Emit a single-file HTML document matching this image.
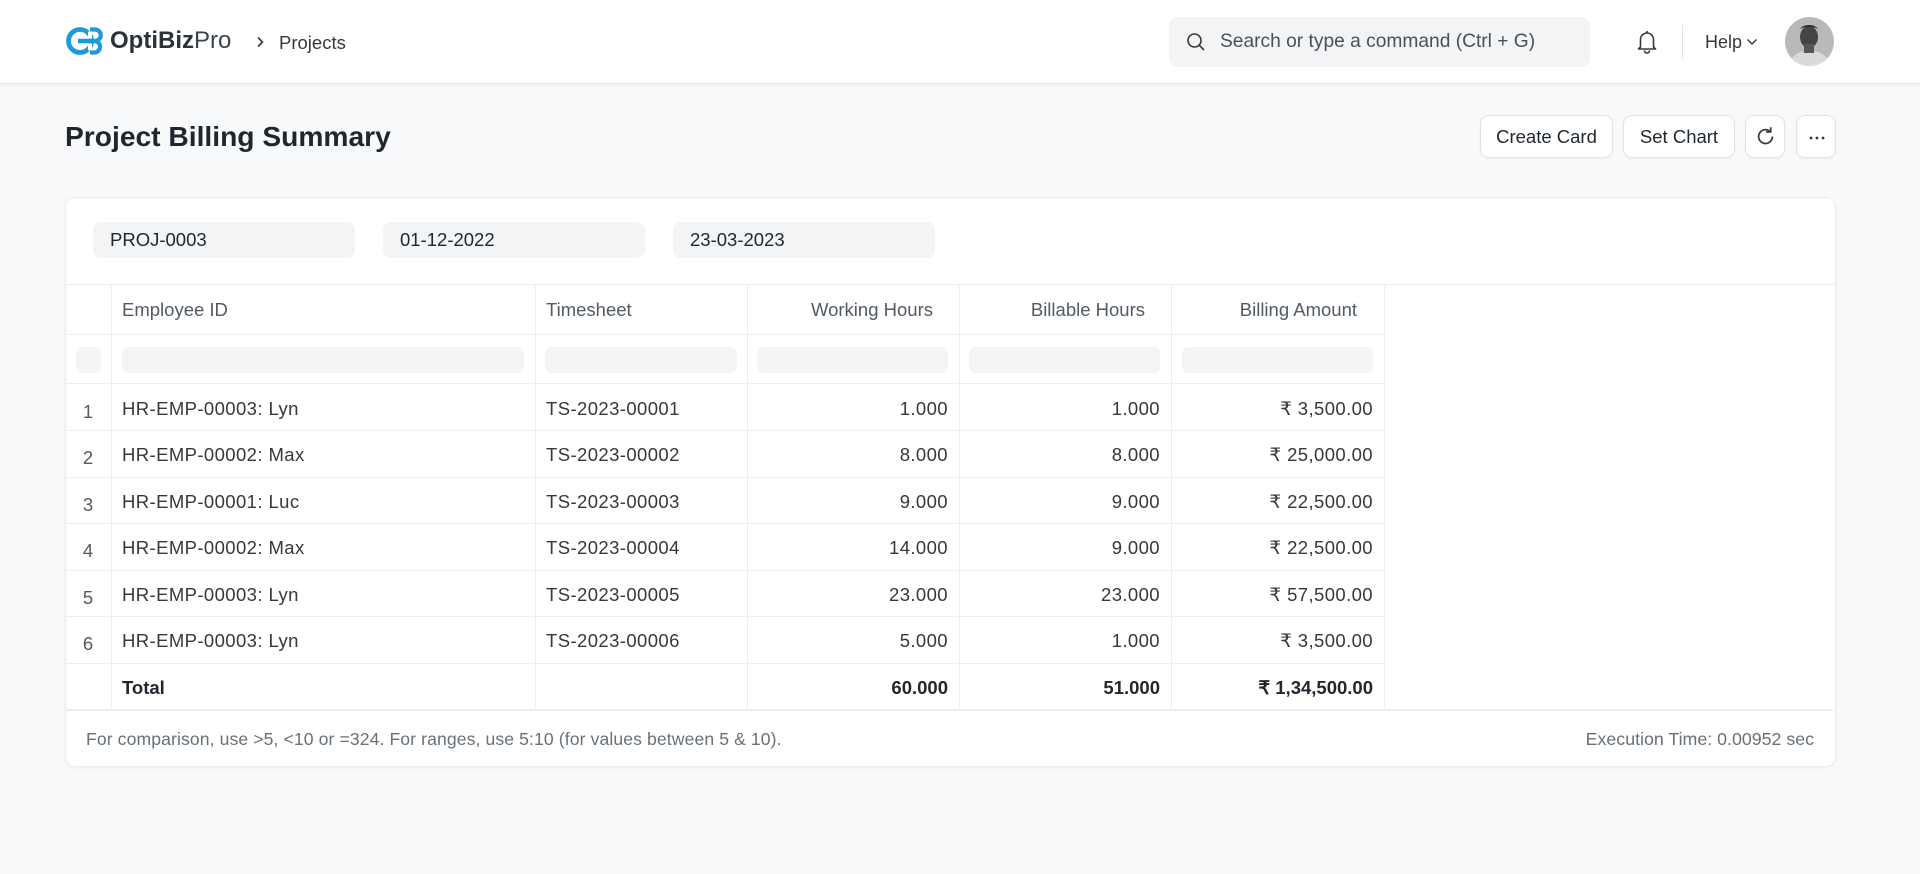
<!DOCTYPE html>
<html><head><meta charset="utf-8">
<style>
*{box-sizing:border-box;margin:0;padding:0}
html,body{width:1920px;height:874px;overflow:hidden}
body{background:#f8f9fa;font-family:"Liberation Sans",Arial,sans-serif;color:#1f272e;position:relative}
.a{position:absolute;white-space:nowrap}
.nav{position:absolute;left:0;top:0;width:1920px;height:84px;background:#fff;border-bottom:1px solid #e6e6e6;box-shadow:0 1px 2px rgba(0,0,0,0.04)}
.btn{position:absolute;top:115px;height:43px;background:#fff;border:1px solid #e2e3e5;border-radius:9px;box-shadow:0 1px 2px rgba(0,0,0,0.05);font-size:18.5px;color:#1f272e;line-height:41px;text-align:center}
.card{position:absolute;left:65px;top:197px;width:1771px;height:570px;background:#fff;border:1px solid #ececec;border-radius:10px;box-shadow:0 1px 3px rgba(0,0,0,0.04)}
.inp{position:absolute;top:222px;height:36px;width:262px;background:#f3f4f5;border-radius:8px;font-size:18.5px;line-height:36px;padding-left:17px;color:#1f272e}
.hl{position:absolute;height:1px;background:#ebeef0}
.vl{position:absolute;width:1px;top:285px;height:425px;background:#ebeef0}
.fb{position:absolute;top:347px;height:26px;background:#f3f4f5;border-radius:7px}
.t{position:absolute;font-size:18.5px;white-space:nowrap;color:#383838;letter-spacing:0.4px}
.h{position:absolute;font-size:18.5px;white-space:nowrap;color:#525a63}
.r{text-align:right}
.n{position:absolute;font-size:18.5px;color:#525a63;width:46px;text-align:center;left:65px}
.b{font-weight:bold;color:#1f272e}
</style></head><body>

<div class="nav"></div>
<!-- logo -->
<svg class="a" style="left:66px;top:26px" width="40" height="30" viewBox="0 0 40 30">
  <circle cx="14" cy="15" r="11.5" stroke="#1e9bd7" stroke-width="4.8" fill="none"/>
  <path d="M12 15 H29" stroke="#1e9bd7" stroke-width="4.4" fill="none"/>
  <path d="M24 3.5 H29 A5.6 5.6 0 0 1 29 15 A5.8 5.8 0 0 1 29 26.5 H24" stroke="#1e9bd7" stroke-width="4.2" fill="none"/>
  <rect x="22" y="5.5" width="4" height="7" fill="#fff"/>
  <rect x="22" y="17.5" width="4" height="7" fill="#fff"/>
</svg>
<div class="a" style="left:110px;top:27px;font-size:24px;line-height:28px;color:#2b3238"><b>OptiBiz</b><span style="font-weight:normal;color:#3b434a">Pro</span></div>
<svg class="a" style="left:255px;top:35px" width="10" height="14" viewBox="0 0 10 14"><path d="M3 2.5 L7.5 7 L3 11.5" stroke="#383838" stroke-width="1.6" fill="none"/></svg>
<div class="a" style="left:279px;top:31px;font-size:18.5px;line-height:24px;color:#383838">Projects</div>

<!-- search -->
<div class="a" style="left:1169px;top:17px;width:421px;height:50px;background:#f3f4f5;border-radius:9px"></div>
<svg class="a" style="left:1186px;top:32px" width="20" height="20" viewBox="0 0 20 20"><circle cx="8.5" cy="8.5" r="6.5" stroke="#383838" stroke-width="1.6" fill="none"/><path d="M13.3 13.3 L18 18" stroke="#383838" stroke-width="1.6"/></svg>
<div class="a" style="left:1220px;top:30px;font-size:19.2px;line-height:24px;color:#4a5058">Search or type a command (Ctrl + G)</div>

<!-- bell -->
<svg class="a" style="left:1636px;top:29px" width="22" height="25" viewBox="0 0 22 25"><path d="M4.5 18 V10.5 A6.5 6.5 0 0 1 17.5 10.5 V18 L19.5 20 H2.5 Z" stroke="#383838" stroke-width="1.6" fill="none" stroke-linejoin="round"/><path d="M8.5 21.5 A2.5 2.5 0 0 0 13.5 21.5" stroke="#383838" stroke-width="1.6" fill="none"/><path d="M11 2 V4" stroke="#383838" stroke-width="1.6"/></svg>
<div class="a" style="left:1682px;top:25px;width:1px;height:33px;background:#e2e2e2"></div>
<div class="a" style="left:1705px;top:30px;font-size:18px;line-height:24px;color:#383838">Help</div>
<svg class="a" style="left:1745px;top:37px" width="14" height="10" viewBox="0 0 14 10"><path d="M2.5 2.5 L7 7 L11.5 2.5" stroke="#383838" stroke-width="1.5" fill="none"/></svg>
<!-- avatar -->
<svg class="a" style="left:1785px;top:17px" width="49" height="49" viewBox="0 0 49 49">
  <defs><clipPath id="cp"><circle cx="24.5" cy="24.5" r="24.5"/></clipPath></defs>
  <g clip-path="url(#cp)">
    <rect width="49" height="49" fill="#b9b9b9"/>
    <path d="M4 49 C6 38 14 34 24 34 C35 34 43 38 46 49 Z" fill="#dadada"/>
    <ellipse cx="24" cy="20" rx="9" ry="11" fill="#444"/>
    <rect x="19" y="27" width="10" height="9" fill="#555"/>
    <path d="M14 14 C16 6 32 6 34 14 L33 12 C28 9 20 9 15 12 Z" fill="#2a2a2a"/>
  </g>
</svg>

<!-- title -->
<div class="a" style="left:65px;top:119px;font-size:28.2px;line-height:34px;font-weight:bold;color:#1f272e">Project Billing Summary</div>

<div class="btn" style="left:1480px;width:133px">Create Card</div>
<div class="btn" style="left:1623px;width:112px">Set Chart</div>
<div class="btn" style="left:1745px;width:40px"><svg style="position:absolute;left:8px;top:9px" width="23" height="23" viewBox="0 0 20 20"><path d="M16 10 A6 6 0 1 1 13.5 5.2" stroke="#383838" stroke-width="1.5" fill="none"/><path d="M14.5 2 V6 H10.5" stroke="#383838" stroke-width="1.5" fill="none"/></svg></div>
<div class="btn" style="left:1796px;width:40px"><svg style="position:absolute;left:11px;top:20px" width="18" height="4" viewBox="0 0 18 4"><circle cx="3" cy="2" r="1.4" fill="#383838"/><circle cx="9" cy="2" r="1.4" fill="#383838"/><circle cx="15" cy="2" r="1.4" fill="#383838"/></svg></div>

<!-- card -->
<div class="card"></div>
<div class="inp" style="left:93px">PROJ-0003</div>
<div class="inp" style="left:383px">01-12-2022</div>
<div class="inp" style="left:673px">23-03-2023</div>

<!-- table lines -->
<div class="hl" style="left:66px;top:284px;width:1769px"></div>
<div class="hl" style="left:66px;top:334px;width:1318px"></div>
<div class="hl" style="left:66px;top:383px;width:1318px"></div>
<div class="hl" style="left:66px;top:430px;width:1318px"></div>
<div class="hl" style="left:66px;top:477px;width:1318px"></div>
<div class="hl" style="left:66px;top:523px;width:1318px"></div>
<div class="hl" style="left:66px;top:570px;width:1318px"></div>
<div class="hl" style="left:66px;top:616px;width:1318px"></div>
<div class="hl" style="left:66px;top:663px;width:1318px"></div>
<div class="hl" style="left:66px;top:709px;width:1767px;height:2px"></div>
<div class="vl" style="left:111px"></div>
<div class="vl" style="left:535px"></div>
<div class="vl" style="left:747px"></div>
<div class="vl" style="left:959px"></div>
<div class="vl" style="left:1171px"></div>
<div class="vl" style="left:1384px"></div>

<!-- header -->
<div class="h" style="left:122px;top:299px">Employee ID</div>
<div class="h" style="left:546px;top:299px">Timesheet</div>
<div class="h r" style="right:987px;top:299px">Working Hours</div>
<div class="h r" style="right:775px;top:299px">Billable Hours</div>
<div class="h r" style="right:563px;top:299px">Billing Amount</div>

<!-- filter row -->
<div class="fb" style="left:76px;width:25px"></div>
<div class="fb" style="left:122px;width:402px"></div>
<div class="fb" style="left:545px;width:192px"></div>
<div class="fb" style="left:757px;width:191px"></div>
<div class="fb" style="left:969px;width:191px"></div>
<div class="fb" style="left:1182px;width:191px"></div>

<div class="n" style="top:401px">1</div>
<div class="t" style="left:122px;top:398px">HR-EMP-00003: Lyn</div>
<div class="t" style="left:546px;top:398px">TS-2023-00001</div>
<div class="t r" style="right:972px;top:398px">1.000</div>
<div class="t r" style="right:760px;top:398px">1.000</div>
<div class="t r" style="right:547px;top:398px">₹ 3,500.00</div>

<div class="n" style="top:447px">2</div>
<div class="t" style="left:122px;top:444px">HR-EMP-00002: Max</div>
<div class="t" style="left:546px;top:444px">TS-2023-00002</div>
<div class="t r" style="right:972px;top:444px">8.000</div>
<div class="t r" style="right:760px;top:444px">8.000</div>
<div class="t r" style="right:547px;top:444px">₹ 25,000.00</div>

<div class="n" style="top:494px">3</div>
<div class="t" style="left:122px;top:491px">HR-EMP-00001: Luc</div>
<div class="t" style="left:546px;top:491px">TS-2023-00003</div>
<div class="t r" style="right:972px;top:491px">9.000</div>
<div class="t r" style="right:760px;top:491px">9.000</div>
<div class="t r" style="right:547px;top:491px">₹ 22,500.00</div>

<div class="n" style="top:540px">4</div>
<div class="t" style="left:122px;top:537px">HR-EMP-00002: Max</div>
<div class="t" style="left:546px;top:537px">TS-2023-00004</div>
<div class="t r" style="right:972px;top:537px">14.000</div>
<div class="t r" style="right:760px;top:537px">9.000</div>
<div class="t r" style="right:547px;top:537px">₹ 22,500.00</div>

<div class="n" style="top:587px">5</div>
<div class="t" style="left:122px;top:584px">HR-EMP-00003: Lyn</div>
<div class="t" style="left:546px;top:584px">TS-2023-00005</div>
<div class="t r" style="right:972px;top:584px">23.000</div>
<div class="t r" style="right:760px;top:584px">23.000</div>
<div class="t r" style="right:547px;top:584px">₹ 57,500.00</div>

<div class="n" style="top:633px">6</div>
<div class="t" style="left:122px;top:630px">HR-EMP-00003: Lyn</div>
<div class="t" style="left:546px;top:630px">TS-2023-00006</div>
<div class="t r" style="right:972px;top:630px">5.000</div>
<div class="t r" style="right:760px;top:630px">1.000</div>
<div class="t r" style="right:547px;top:630px">₹ 3,500.00</div>

<div class="t b" style="left:122px;top:677px;letter-spacing:0">Total</div>
<div class="t r b" style="right:972px;top:677px;letter-spacing:0">60.000</div>
<div class="t r b" style="right:760px;top:677px;letter-spacing:0">51.000</div>
<div class="t r b" style="right:547px;top:677px;letter-spacing:0">₹ 1,34,500.00</div>

<!-- footer -->
<div class="a" style="left:86px;top:729px;font-size:17.6px;line-height:20px;color:#687178;letter-spacing:0.1px">For comparison, use &gt;5, &lt;10 or =324. For ranges, use 5:10 (for values between 5 &amp; 10).</div>
<div class="a" style="right:106px;top:729px;font-size:17.8px;line-height:20px;color:#687178">Execution Time: 0.00952 sec</div>

</body></html>
